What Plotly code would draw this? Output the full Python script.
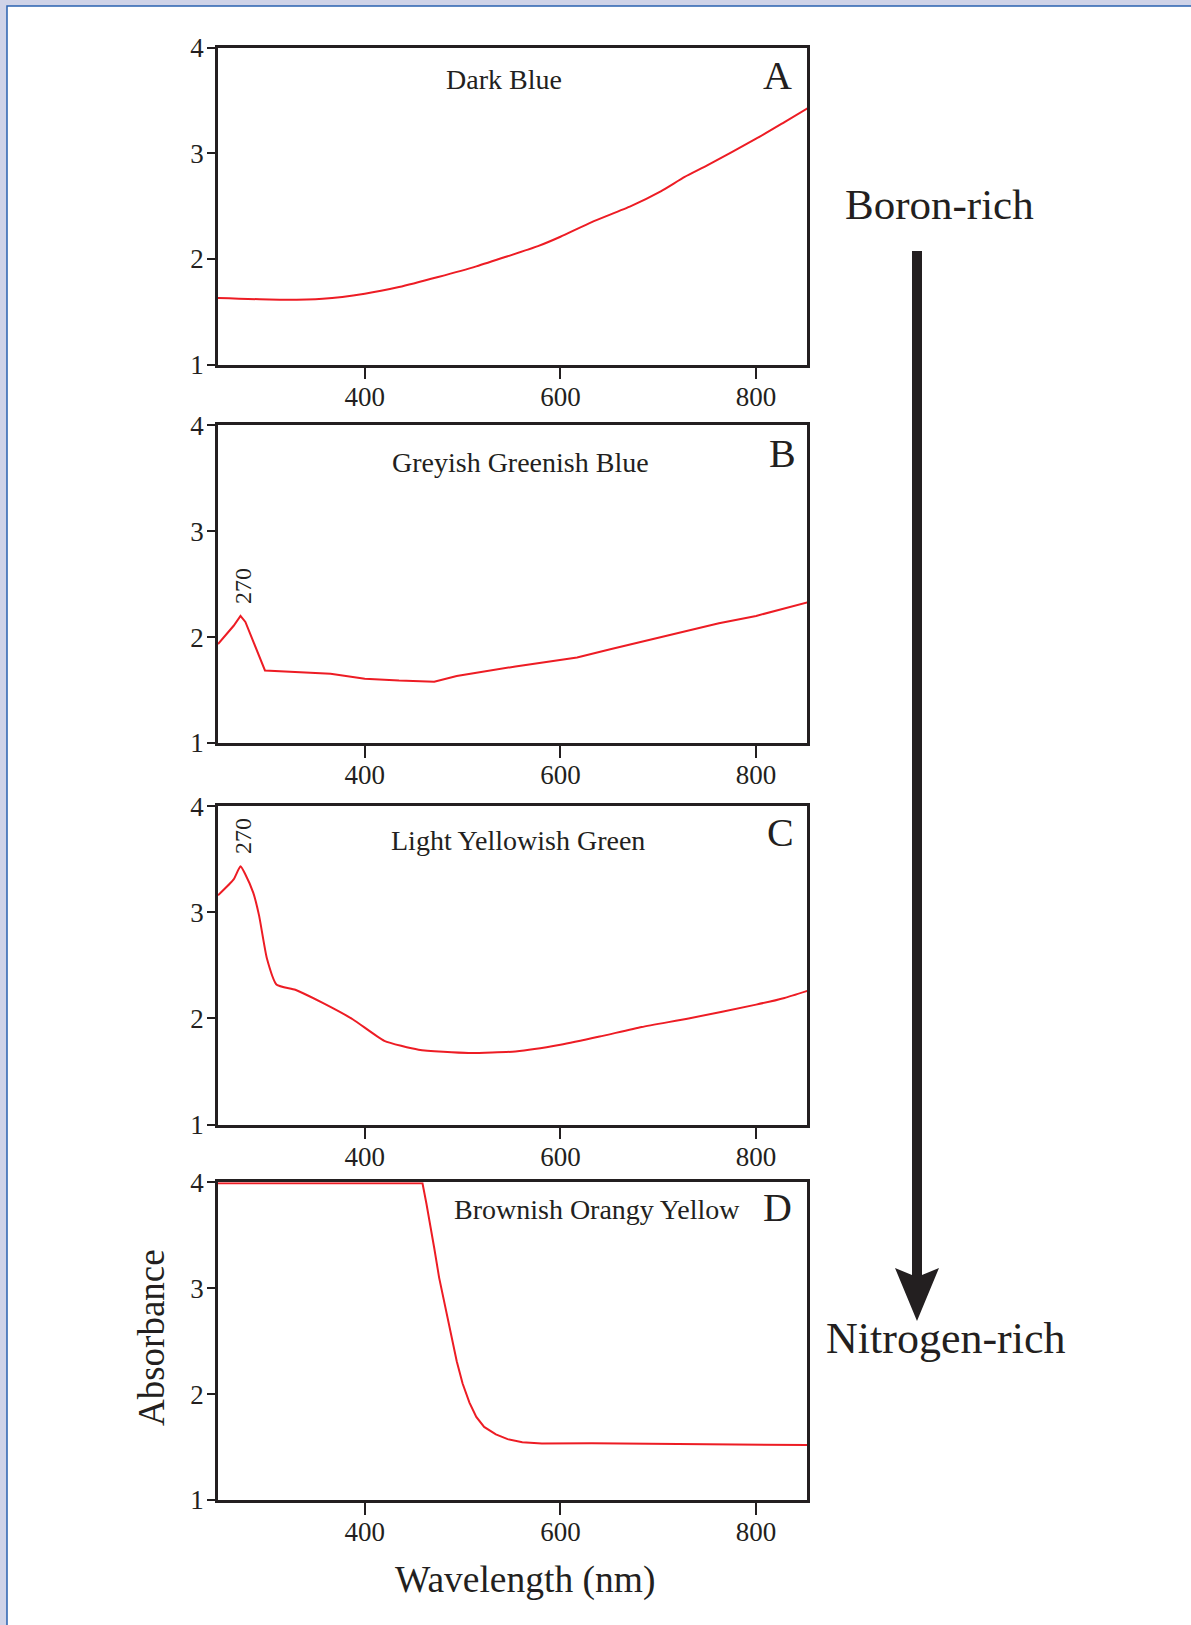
import plotly.graph_objects as go

# ---------------- data ----------------
wl_A = [250, 317, 357, 400, 435, 475, 514, 577, 600, 632, 672, 703, 727, 750, 800, 829, 853]
abs_A = [1.63, 1.613, 1.622, 1.67, 1.733, 1.828, 1.929, 2.121, 2.21, 2.349, 2.50, 2.642, 2.776, 2.885, 3.138, 3.296, 3.428]

wl_B = [250, 266, 273, 278, 298, 365, 400, 435, 471, 494, 554, 617, 652, 691, 731, 762, 800, 853]
abs_B = [1.935, 2.107, 2.20, 2.143, 1.685, 1.654, 1.607, 1.589, 1.579, 1.632, 1.723, 1.807, 1.888, 1.975, 2.065, 2.131, 2.20, 2.33]

wl_C = [250, 266, 273, 278, 286, 292, 300, 310, 329, 357, 388, 420, 455, 506, 554, 600, 640, 683, 731, 800, 829, 853]
abs_C = [3.161, 3.311, 3.435, 3.357, 3.186, 2.969, 2.565, 2.317, 2.27, 2.146, 1.99, 1.789, 1.705, 1.674, 1.689, 1.752, 1.829, 1.919, 2.0, 2.13, 2.193, 2.261]

wl_D = [250, 459, 463, 467, 471, 476, 482, 488, 494, 500, 507, 514, 522, 534, 546, 561, 581, 632, 710, 853]
abs_D = [3.99, 3.99, 3.80, 3.60, 3.38, 3.10, 2.84, 2.57, 2.31, 2.10, 1.92, 1.785, 1.69, 1.62, 1.575, 1.545, 1.534, 1.537, 1.531, 1.519]

panel_names = ["Dark Blue", "Greyish Greenish Blue", "Light Yellowish Green", "Brownish Orangy Yellow"]
panel_letters = ["A", "B", "C", "D"]
x_ticks = [400, 600, 800]
y_ticks = [1, 2, 3, 4]
peak_label = "270"

# ---------------- layout helpers ----------------
W, H = 1191, 1625
def px(x):
    return x / W
def py(y):
    return 1 - y / H

INK = "#231f20"
RED = "#ed1c24"
FONT = "Liberation Serif"

x_dom = [px(218), px(807)]
y_doms = [(47.7, 364.5), (425.3, 743.0), (806.3, 1124.5), (1182.3, 1500.0)]

series = [(wl_A, abs_A, "spline"), (wl_B, abs_B, "linear"), (wl_C, abs_C, "spline"), (wl_D, abs_D, "linear")]

fig = go.Figure()
for i, (xs, ys, shape) in enumerate(series):
    n = "" if i == 0 else str(i + 1)
    fig.add_trace(go.Scatter(
        x=xs, y=ys, mode="lines",
        line=dict(color=RED, width=2, shape=shape, smoothing=0.5),
        xaxis="x" + n, yaxis="y" + n, showlegend=False, hoverinfo="skip",
    ))
    top, bot = y_doms[i]
    fig.layout["xaxis" + n] = dict(
        domain=x_dom, range=[250, 852], anchor="y" + n, automargin=False,
        tickvals=x_ticks, ticks="outside", ticklen=12, tickwidth=2, tickcolor=INK,
        ticklabelstandoff=-6,
        showline=True, linewidth=2.5, linecolor=INK, mirror=True,
        showgrid=False, zeroline=False,
        tickfont=dict(family=FONT, size=27, color=INK),
    )
    fig.layout["yaxis" + n] = dict(
        domain=[py(bot), py(top)], range=[1, 4], anchor="x" + n, automargin=False,
        tickvals=y_ticks, ticks="outside", ticklen=8, tickwidth=2, tickcolor=INK,
        ticklabelstandoff=-2,
        showline=True, linewidth=2.5, linecolor=INK, mirror=True,
        showgrid=False, zeroline=False,
        tickfont=dict(family=FONT, size=27, color=INK),
    )

annotations = []
def add_text(text, x, y, size, angle=0):
    annotations.append(dict(
        text=text, x=px(x), y=py(y), xref="paper", yref="paper",
        xanchor="center", yanchor="middle", showarrow=False, textangle=angle,
        font=dict(family=FONT, size=size, color=INK),
    ))

name_pos = [(504, 80), (520, 462), (518, 841), (597, 1209)]
letter_pos = [(777, 75), (782, 453), (780, 832), (777, 1207)]
for i in range(4):
    add_text(panel_names[i], *name_pos[i], 28)
    add_text(panel_letters[i], *letter_pos[i], 40)

add_text(peak_label, 243, 586, 24, -90)
add_text(peak_label, 243, 836, 24, -90)
add_text("Absorbance", 151, 1338, 37, -90)
add_text("Wavelength (nm)", 525, 1580, 37.5)
add_text("Boron-rich", 939, 204, 43)
add_text("Nitrogen-rich", 945, 1338, 44)

# arrow path in paper coords
pts = [(912, 251), (922, 251), (922, 1275), (939, 1268), (917, 1321), (895, 1268), (912, 1275)]
path = "M " + " L ".join(f"{px(a):.5f},{py(b):.5f}" for a, b in pts) + " Z"

shapes = [
    dict(type="rect", xref="paper", yref="paper", x0=px(7), x1=1.05, y0=-0.05, y1=py(6),
         fillcolor="white", line=dict(color="#2a62b0", width=1.5), layer="below"),
    dict(type="path", xref="paper", yref="paper", path=path, fillcolor=INK,
         line=dict(color=INK, width=0)),
]

fig.update_layout(
    width=W, height=H, margin=dict(l=0, r=0, t=0, b=0, autoexpand=False),
    paper_bgcolor="#cfd3e8", plot_bgcolor="white",
    annotations=annotations, shapes=shapes,
)

fig.write_html("out.html")
